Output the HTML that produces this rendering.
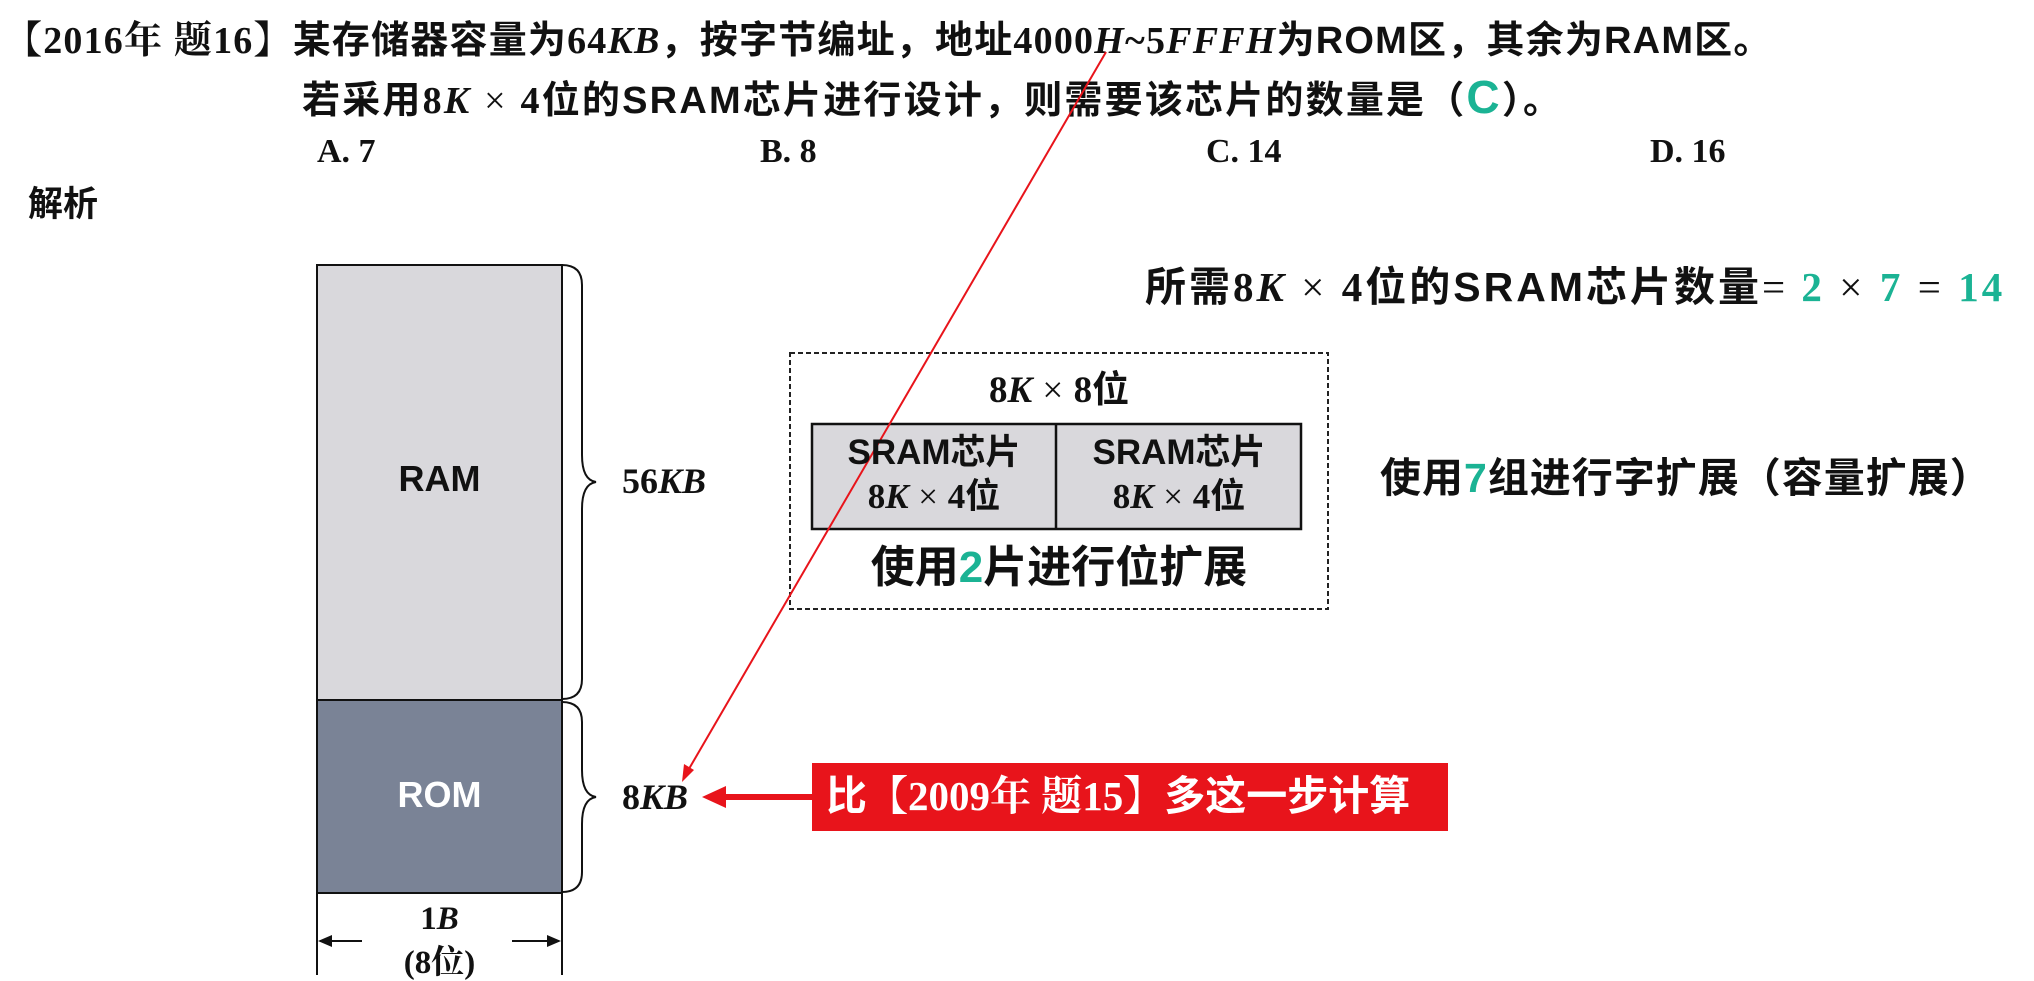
<!DOCTYPE html>
<html><head><meta charset="utf-8"><style>
html,body{margin:0;padding:0;background:#fff;}
body{width:2034px;height:981px;position:relative;overflow:hidden;font-family:"Liberation Sans","Noto Sans CJK SC",sans-serif;font-weight:bold;color:#111;}
.t{position:absolute;white-space:nowrap;line-height:1;}
.m{font-family:"Liberation Serif","Noto Serif CJK SC",serif;}
.i{font-family:"Liberation Serif",serif;font-style:italic;}
.g{color:#1bb394;}
</style></head><body>
<div class="t" style="left:4px;top:22px;font-size:38px;letter-spacing:1.2px;"><span class="m">【2016年 题16】</span>某存储器容量为<span class="m">64</span><span class="i">KB</span>，按字节编址，地址<span class="m">4000</span><span class="i">H</span><span class="m">~5</span><span class="i">FFFH</span>为ROM区，其余为RAM区。</div>
<div class="t" style="left:302px;top:74px;font-size:38px;letter-spacing:2.2px;">若采用<span class="m">8</span><span class="i">K</span> <span class="m" style="font-weight:normal">×</span> <span class="m">4</span>位的SRAM芯片进行设计，则需要该芯片的数量是（<span class="g" style="font-size:46px;">C</span>）。</div>
<div class="t m" style="left:317px;top:135px;font-size:34px;">A. 7</div>
<div class="t m" style="left:760px;top:135px;font-size:34px;">B. 8</div>
<div class="t m" style="left:1206px;top:135px;font-size:34px;">C. 14</div>
<div class="t m" style="left:1650px;top:135px;font-size:34px;">D. 16</div>
<div class="t" style="left:28px;top:187px;font-size:35px;">解析</div>

<svg width="2034" height="981" style="position:absolute;left:0;top:0">
<rect x="317" y="265" width="245" height="435" fill="#d9d8dc" stroke="#111" stroke-width="2"/>
<rect x="317" y="700" width="245" height="193" fill="#7a8396" stroke="#111" stroke-width="2"/>
<path d="M562 265 q20 0 20 20 v170 q0 25 14 27 q-14 2 -14 27 v170 q0 20 -20 20" fill="none" stroke="#111" stroke-width="2"/>
<path d="M562 702 q20 0 20 20 v48 q0 25 14 27 q-14 2 -14 27 v48 q0 20 -20 20" fill="none" stroke="#111" stroke-width="2"/>
<line x1="317" y1="893" x2="317" y2="975" stroke="#111" stroke-width="2"/>
<line x1="562" y1="893" x2="562" y2="975" stroke="#111" stroke-width="2"/>
<line x1="320" y1="941" x2="362" y2="941" stroke="#111" stroke-width="2"/>
<line x1="512" y1="941" x2="559" y2="941" stroke="#111" stroke-width="2"/>
<polygon points="318,941 332,935 332,947" fill="#111"/>
<polygon points="561,941 547,935 547,947" fill="#111"/>
<rect x="790" y="353" width="538" height="256" fill="none" stroke="#222" stroke-width="2" stroke-dasharray="5,3"/>
<rect x="812" y="424" width="489" height="105" fill="#d9d8dc" stroke="#111" stroke-width="2.5"/>
<line x1="1056" y1="424" x2="1056" y2="529" stroke="#111" stroke-width="2.5"/>
<rect x="812" y="763" width="636" height="68" fill="#e8141b"/>
<line x1="812" y1="797" x2="720" y2="797" stroke="#e8141b" stroke-width="6"/>
<polygon points="702,797 726,786 726,808" fill="#e8141b"/>
<line x1="1106" y1="52" x2="686" y2="774" stroke="#e8141b" stroke-width="2"/>
<polygon points="682,782 684,764 694,770" fill="#e8141b"/>
</svg>

<div class="t" style="left:317px;top:461px;width:245px;text-align:center;font-size:36px;color:#111;">RAM</div>
<div class="t" style="left:317px;top:777px;width:245px;text-align:center;font-size:36px;color:#fff;">ROM</div>
<div class="t" style="left:622px;top:463px;font-size:36px;"><span class="m">56</span><span class="i">KB</span></div>
<div class="t" style="left:622px;top:779px;font-size:36px;"><span class="m">8</span><span class="i">KB</span></div>
<div class="t" style="left:317px;top:901px;width:245px;text-align:center;font-size:33px;"><span class="m">1</span><span class="i">B</span></div>
<div class="t" style="left:317px;top:945px;width:245px;text-align:center;font-size:33px;"><span class="m">(8位)</span></div>

<div class="t" style="left:790px;top:371px;width:538px;text-align:center;font-size:37px;"><span class="m">8</span><span class="i">K</span> <span class="m" style="font-weight:normal">×</span> <span class="m">8</span>位</div>
<div class="t" style="left:812px;top:431px;width:244px;text-align:center;font-size:35px;line-height:44px;">SRAM芯片<br><span class="m">8</span><span class="i">K</span> <span class="m" style="font-weight:normal">×</span> <span class="m">4</span>位</div>
<div class="t" style="left:1057px;top:431px;width:244px;text-align:center;font-size:35px;line-height:44px;">SRAM芯片<br><span class="m">8</span><span class="i">K</span> <span class="m" style="font-weight:normal">×</span> <span class="m">4</span>位</div>
<div class="t" style="left:790px;top:546px;width:538px;text-align:center;font-size:44px;">使用<span class="g">2</span>片进行位扩展</div>

<div class="t" style="left:1145px;top:267px;font-size:41px;letter-spacing:3px;">所需<span class="m">8</span><span class="i">K</span> <span class="m" style="font-weight:normal">×</span> <span class="m">4</span>位的SRAM芯片数量<span class="m" style="font-weight:normal">= </span><span class="m g">2</span> <span class="m" style="font-weight:normal">×</span> <span class="m g">7</span> <span class="m" style="font-weight:normal">=</span> <span class="m g">14</span></div>
<div class="t" style="left:1380px;top:458px;font-size:41px;letter-spacing:1px;">使用<span class="g">7</span>组进行字扩展（容量扩展）</div>
<div class="t" style="left:826px;top:776px;font-size:41px;color:#fff;">比<span class="m">【2009年 题15】</span>多这一步计算</div>
</body></html>
